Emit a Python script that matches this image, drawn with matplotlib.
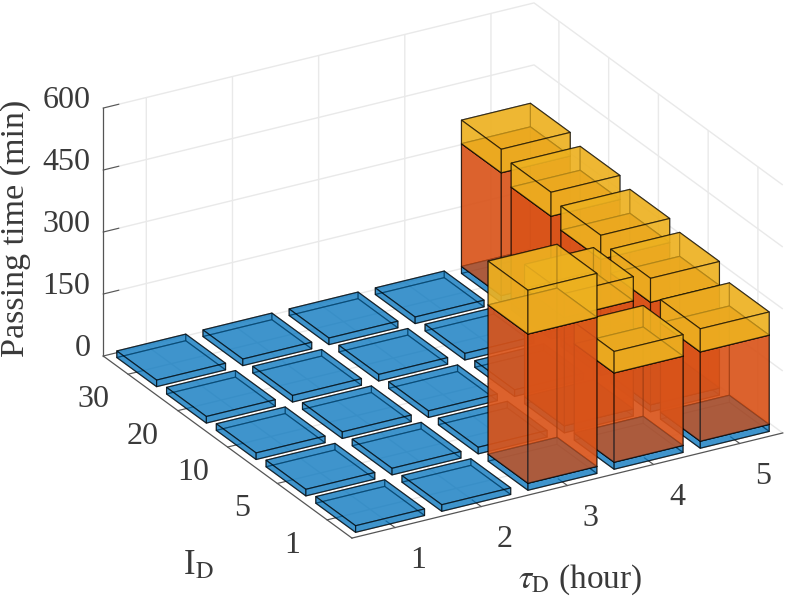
import matplotlib
matplotlib.use("Agg")
import matplotlib.pyplot as plt
from mpl_toolkits.mplot3d import proj3d

plt.rcParams["font.family"] = ["Liberation Serif", "DejaVu Serif"]
plt.rcParams["mathtext.fontset"] = "stix"

tau_labels = ["1", "2", "3", "4", "5"]
id_labels = ["1", "5", "10", "20", "30"]
z_ticks = [0, 150, 300, 450, 600]

# rows: I_D = 1, 5, 10, 20, 30; columns: tau_D = 1..5 (minutes)
base_time = [
    [16, 16, 17, 17, 17],
    [16, 16, 16, 17, 17],
    [16, 16, 16, 16, 17],
    [16, 16, 16, 16, 17],
    [16, 16, 16, 16, 17],
]
middle_time = [
    [0, 0, 361, 216, 216],
    [0, 0, 0, 262, 248],
    [0, 0, 0, 0, 264],
    [0, 0, 0, 0, 280],
    [0, 0, 0, 0, 297],
]
top_time = [
    [0, 0, 106, 52, 56],
    [0, 0, 0, 58, 58],
    [0, 0, 0, 0, 58],
    [0, 0, 0, 0, 58],
    [0, 0, 0, 0, 57],
]

BAR_W = 0.8
colors = [(0.0, 0.447, 0.741, 0.5), (0.85, 0.325, 0.098, 0.7), (0.929, 0.694, 0.125, 0.7)]
EDGE = (0, 0, 0, 0.6)
GRID = "#e9e9e9"
AXC = "#555555"
TXT = "#3a3a3a"
FS = 23

W, H = 786, 607
fig = plt.figure(figsize=(W / 100, H / 100), dpi=100)
side = 732.8
ax = fig.add_axes([66.7 / W, -39.8 / H, side / W, side / H], projection="3d",
                  proj_type="ortho", computed_zorder=False)
ax.view_init(elev=25, azim=-120)

# back to front so the see-through boxes stack properly
z = 1
for j in range(4, -1, -1):
    for i in range(4, -1, -1):
        bottom = 0
        for k, (series, col) in enumerate(zip((base_time, middle_time, top_time), colors)):
            h = series[j][i]
            if h <= 0:
                continue
            ax.bar3d(i + 1 - BAR_W / 2, j + 1 - BAR_W / 2, bottom, BAR_W, BAR_W, h,
                     color=col, edgecolor=EDGE, linewidth=0.85, shade=False, zorder=z)
            z += 1
            if k == 1:
                # floor of the orange box reads brownish in the original
                ax.bar3d(i + 1 - BAR_W / 2, j + 1 - BAR_W / 2, bottom, BAR_W, BAR_W, 0,
                         color=(0.0, 0.447, 0.741, 0.08), edgecolor="none", shade=False, zorder=z)
                z += 1
            bottom += h

ax.set_xlim(0.5, 5.5)
ax.set_ylim(0.5, 5.5)
ax.set_zlim(0, 600)
ax.set_box_aspect((1, 1, 0.55), zoom=1)

ax.set_xticks(range(1, 6))
ax.set_yticks(range(1, 6))
ax.set_zticks(z_ticks)
ax.tick_params(axis="x", color=AXC, labelbottom=False, labeltop=False)
ax.tick_params(axis="y", color=AXC, labelleft=False, labelright=False)
ax.tick_params(axis="z", color=AXC, labelleft=False, labelright=False)

for axis in (ax.xaxis, ax.yaxis, ax.zaxis):
    axis.set_pane_color((1, 1, 1, 0))
    axis.pane.set_edgecolor(GRID)
    axis.line.set_color(AXC)
    axis.line.set_linewidth(0.9)
    axis._axinfo["grid"].update(color=GRID, linewidth=1.0)
    axis._axinfo["tick"].update(inward_factor=0.0, outward_factor=0.45)


def label_at(x, y, zval, s, **kw):
    # tick labels placed by hand, the default offsets land too far out
    px, py, _ = proj3d.proj_transform(x, y, zval, ax.get_proj())
    ax.text2D(px, py, s, transform=ax.transData, fontsize=FS, color=TXT, va="center", **kw)


for t, lab in zip(range(1, 6), tau_labels):
    label_at(t, 0.03, -38, lab, ha="center")
for t, lab in zip(range(1, 6), id_labels):
    label_at(0.096, t, -41, lab, ha="center")
for t in z_ticks:
    label_at(0.35, 5.5, t + 27, str(t), ha="right")

fig.text(16 / W, 1 - 228 / H, "Passing time (min)", rotation=90, fontsize=24.5,
         color=TXT, ha="center", va="center")
fig.text(198 / W, 1 - 566 / H, r"I$_{\mathrm{D}}$", fontsize=25, color=TXT,
         ha="center", va="center")
fig.text(580 / W, 1 - 580 / H, r"$\tau_{\mathrm{D}}$ (hour)", fontsize=24,
         color=TXT, ha="center", va="center")

fig.savefig("out.png", dpi=100)
